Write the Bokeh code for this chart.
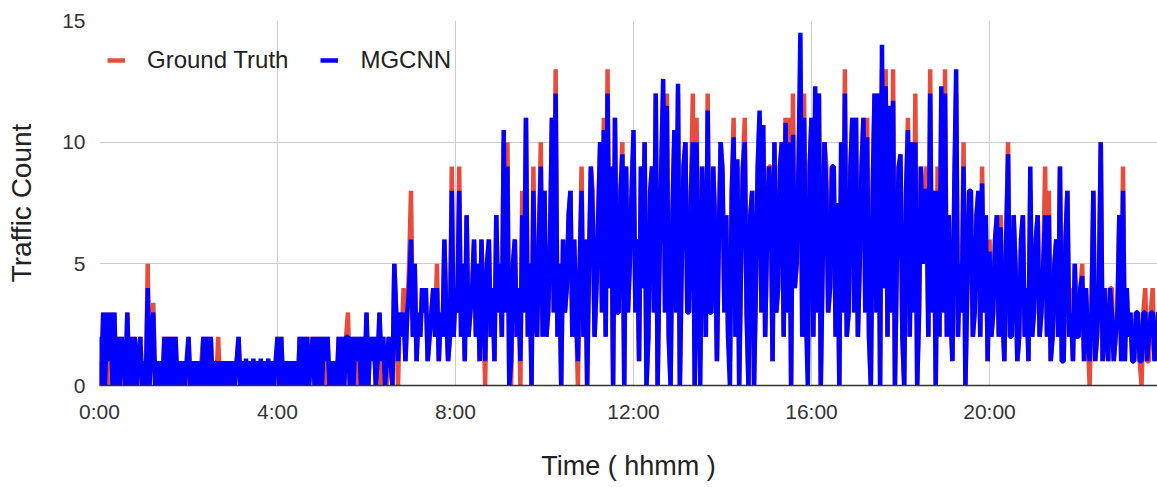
from bokeh.plotting import figure
from bokeh.models import Range1d, FixedTicker, Legend, LegendItem
from bokeh.embed import file_html
from bokeh.resources import INLINE

# one row per hour, 2.5-minute samples
ground_truth = [
    1, 0, 3, 0, 3, 0, 3, 0, 3, 0, 2, 1, 2, 0, 0, 3, 0, 2, 0, 2, 1, 0, 2, 0,
    0, 0, 5, 0, 2, 3.4, 0, 1, 0, 1, 0, 2, 0, 2, 0, 2, 0, 2, 0, 1, 0, 1, 0, 0,
    2, 0, 1, 0, 1, 0, 0, 1, 2, 0, 2, 0, 2, 0, 1, 0, 2, 0, 1, 0, 1, 0, 1, 0,
    1, 0, 1, 2, 0, 1, 0, 1, 0, 1, 0, 1, 0, 1, 0, 1, 0, 1, 0, 1, 0, 0, 1, 0,
    2, 0, 2, 0, 1, 0, 1, 0, 1, 0, 1, 0, 2, 0, 2, 0, 2, 0, 1, 2, 0, 2, 0, 2,
    0, 2, 0, 2, 0, 1, 0, 1, 0, 2, 0, 2, 0, 2, 3, 0, 2, 0, 2, 0, 2, 0, 2, 0,
    3, 0, 2, 1, 2, 0, 0, 3, 0, 2, 0, 0, 2, 1, 0, 5, 3, 0, 3, 2, 4, 1, 3, 5,
    8, 2, 5, 1, 3, 2, 4, 3, 4, 1, 2, 3, 4, 2, 5, 1, 3, 2, 6, 3, 1, 2, 9, 2,
    4, 3, 9, 2, 5, 1, 7, 2, 3, 4, 6, 2, 5, 1, 6, 3, 0, 5, 6, 2, 4, 1, 7, 3,
    5, 2, 10, 3, 10, 0, 0, 5, 6, 2, 4, 0, 8, 3, 11, 2, 5, 0, 9, 3, 2, 6, 10, 2,
    8, 2, 3, 6, 11, 3, 13, 2, 5, 0, 6, 3, 4, 7, 8, 2, 6, 3, 0, 5, 9, 2, 6, 0,
    5, 9, 8, 2, 4, 7, 10, 3, 11, 2, 13, 4, 9, 0, 11, 3, 3, 8, 10, 0, 9, 3, 5, 8,
    10, 3, 6, 1, 9, 4, 10, 0, 2, 8, 9, 3, 12, 0, 5, 9, 12, 3, 12, 2, 0, 7, 10, 3,
    12, 0, 5, 9, 10, 3, 4, 8, 12, 0, 11, 4, 1, 9, 6, 2, 12, 3, 3, 9, 7, 1, 6, 10,
    9, 3, 7, 2, 1, 8, 11, 2, 9, 0, 5, 9, 11, 3, 0, 7, 8, 0, 4, 9, 11, 3, 10, 2,
    6, 9, 9, 1, 10, 3, 4, 9, 10, 2, 11, 3, 11, 0, 12, 4, 5, 9, 12, 2, 12, 3, 1, 9,
    11, 2, 12, 3, 12, 0, 5, 10, 9, 3, 4, 9, 9, 2, 7, 0, 10, 3, 13, 2, 3, 9, 11, 3,
    11, 2, 5, 9, 11, 3, 11, 2, 0, 8, 12, 3, 12, 0, 13, 4, 13, 2, 11, 3, 13, 0, 5, 9,
    9, 2, 0, 8, 11, 2, 10, 3, 12, 0, 3, 9, 5, 8, 9, 2, 13, 3, 8, 0, 9, 2, 12, 3,
    13, 2, 7, 3, 1, 8, 12, 2, 5, 3, 10, 0, 4, 8, 7, 2, 3, 7, 8, 2, 9, 3, 7, 1,
    6, 2, 3, 6, 7, 2, 7, 3, 1, 6, 10, 2, 3, 7, 5, 1, 2, 6, 7, 2, 4, 1, 8, 2,
    3, 6, 7, 2, 3, 5, 9, 2, 8, 1, 2, 5, 6, 2, 9, 1, 1, 6, 8, 2, 4, 1, 5, 2,
    2, 4, 5, 1, 4, 2, 0, 3, 8, 1, 2, 4, 10, 1, 4, 2, 1, 4, 4, 1, 2, 3, 7, 1,
    9, 1, 4, 2, 3, 1, 1, 3, 3, 1, 0, 3, 4, 1, 1, 3, 4, 1, 2, 3, 3, 1, 4, 2,
]

mgcnn = [
    2, 0, 3, 0, 3, 1, 3, 0, 3, 0, 2, 0, 2, 1, 0, 3, 0, 2, 0, 2, 0, 1, 2, 0,
    1, 0, 4, 0, 2, 3, 0, 1, 0, 1, 0, 2, 0, 2, 0, 2, 0, 2, 0, 1, 0, 1, 0, 1,
    2, 0, 1, 0, 1, 0, 1, 0, 2, 0, 2, 0, 2, 0, 1, 0, 1, 0, 1, 0, 1, 0, 1, 0,
    1, 0, 1, 2, 0, 1, 0, 1.1, 0, 1, 0, 1.1, 0, 1, 0, 1.1, 0, 1, 0, 1.1, 0, 1, 0, 1,
    2, 0, 2, 0, 1, 0, 1, 0, 1, 0, 1, 0, 2, 0, 2, 0, 2, 0, 1, 2, 0, 2, 0, 2,
    0, 2, 1, 2, 0, 1, 0, 1, 0, 2, 0, 2, 0, 2, 2, 0, 2, 0, 2, 1, 2, 0, 2, 0,
    3, 0, 2, 1, 2, 0, 1, 3, 1, 2, 0, 1, 2, 1, 0, 5, 3, 1, 3, 2, 3, 1, 3, 4,
    6, 2, 5, 1, 3, 2, 4, 3, 4, 1, 2, 3, 4, 2, 4, 1, 3, 2, 6, 3, 1, 2, 8, 2,
    4, 3, 8, 2, 5, 1, 7, 2, 3, 4, 6, 2, 5, 1, 6, 3, 1, 5, 6, 2, 4, 1, 7, 3,
    5, 2, 10.5, 3, 9, 0, 1, 5, 6, 2, 4, 1, 7, 3, 11, 2, 5, 0, 8, 3, 2, 6, 9, 2,
    8, 2, 3, 6, 11, 3, 12, 2, 5, 0, 6, 3, 4, 7, 8, 2, 6, 3, 1, 5, 8, 2, 6, 0,
    5, 9, 7, 2, 4, 7, 10, 3, 10.5, 2, 12, 4, 9, 0, 11, 3, 3, 8, 9.5, 0, 9, 3, 5, 8,
    10.5, 3, 6, 1, 9, 4, 10, 0, 2, 8, 9, 3, 12, 0, 5, 9, 12.6, 3, 11.5, 2, 0, 7, 10.5, 3,
    12.4, 0, 5, 9, 10, 3, 3, 8, 10, 0, 10, 4, 0, 9, 6, 2, 11.3, 3, 3, 9, 6.3, 1, 6, 10,
    8.7, 3, 7, 2, 0, 8, 10.2, 2, 9.3, 0, 5, 9, 10, 3, 0, 7, 8, 0, 4, 9, 11.3, 3, 10.7, 2,
    6, 9, 8, 1, 10, 3, 4, 9, 10, 2, 10.8, 3, 10, 0, 10.3, 4, 5, 9, 14.5, 2, 11, 3, 0, 9,
    11, 2, 12.3, 3, 12, 0, 5, 10, 8, 3, 4, 9, 9, 2, 7.5, 0, 10, 3, 12, 2, 3, 9, 11, 3,
    11, 2, 5, 9, 11, 3, 10.2, 2, 0, 8, 12, 3, 12, 0, 14, 4, 12.3, 2, 11.5, 3, 11.7, 0, 5, 9,
    9.5, 2, 0, 8, 10.5, 2, 10, 3, 10, 0, 3, 9, 5, 8, 8, 2, 12, 3, 8, 0, 8, 2, 12.3, 3,
    12, 2, 7, 3, 1, 8, 13, 2, 5, 3, 9, 0, 4, 8, 8, 2, 3, 7, 8, 2, 8.3, 3, 7, 1,
    5.5, 2, 3, 6, 7, 2, 6.5, 3, 1, 6, 9.5, 2, 2, 7, 5, 1, 2, 6, 7, 2, 4, 1, 9, 2,
    3, 6, 7, 2, 3, 5, 7, 2, 7, 1, 2, 5, 6, 2, 9, 1, 1, 6, 8, 2, 3, 1, 5, 2,
    2, 4, 4.5, 1, 4, 2, 1, 3, 8, 1, 2, 4, 10, 1, 4, 2, 1, 4, 3, 1, 2, 3, 7, 1,
    8, 1, 4, 2, 3, 1, 1, 3, 3, 1, 1, 3, 3, 1, 2, 3, 3, 1, 2, 3, 3, 1, 4, 2,
]

# time of day in minutes for each sample
time_gt = [i * 2.5 for i in range(len(ground_truth))]
time_mg = [i * 2.5 for i in range(len(mgcnn))]

x_ticks = [0, 240, 480, 720, 960, 1200]
x_tick_labels = ["0:00", "4:00", "8:00", "12:00", "16:00", "20:00"]
y_ticks = [0, 5, 10, 15]

RED = "#e84c3d"
BLUE = "#0000ff"
FONT = "Liberation Sans"

p = figure(width=1157, height=487, output_backend="svg", toolbar_location=None,
           x_range=Range1d(0, 1426.5), y_range=Range1d(0, 15),
           min_border_left=99, min_border_right=0, min_border_top=20,
           min_border_bottom=102)
p.outline_line_color = None
p.background_fill_color = "white"
p.border_fill_color = "white"

r_gt = p.line(time_gt, ground_truth, line_color=RED, line_width=4.5, line_join="bevel")
r_mg = p.line(time_mg, mgcnn, line_color=BLUE, line_width=4.5, line_join="bevel")

# x axis
xa = p.xaxis[0]
xa.ticker = FixedTicker(ticks=x_ticks)
xa.major_label_overrides = {t: l for t, l in zip(x_ticks, x_tick_labels)}
xa.major_tick_line_color = None
xa.minor_tick_line_color = None
xa.major_tick_out = 0
xa.major_tick_in = 0
xa.axis_line_color = "#333333"
xa.axis_line_width = 1.5
xa.major_label_standoff = 14
xa.major_label_text_font = FONT
xa.major_label_text_font_size = "21px"
xa.major_label_text_color = "#333333"
xa.axis_label = "Time ( hhmm )"
xa.axis_label_text_font = FONT
xa.axis_label_text_font_size = "27px"
xa.axis_label_text_font_style = "normal"
xa.axis_label_text_color = "#222222"
xa.axis_label_standoff = 25

# y axis
ya = p.yaxis[0]
ya.ticker = FixedTicker(ticks=y_ticks)
ya.major_tick_line_color = None
ya.minor_tick_line_color = None
ya.major_tick_out = 0
ya.major_tick_in = 0
ya.axis_line_color = None
ya.major_label_standoff = 14
ya.major_label_text_font = FONT
ya.major_label_text_font_size = "21px"
ya.major_label_text_color = "#333333"
ya.axis_label = "Traffic Count"
ya.axis_label_text_font = FONT
ya.axis_label_text_font_size = "28px"
ya.axis_label_text_font_style = "normal"
ya.axis_label_text_color = "#222222"
ya.axis_label_standoff = 22

p.xgrid.ticker = FixedTicker(ticks=x_ticks)
p.ygrid.ticker = FixedTicker(ticks=y_ticks)
p.xgrid.grid_line_color = "#cccccc"
p.ygrid.grid_line_color = "#cccccc"

legend = Legend(
    items=[LegendItem(label="Ground Truth", renderers=[r_gt]),
           LegendItem(label="MGCNN", renderers=[r_mg])],
    orientation="horizontal", location=(8, 311),
    background_fill_alpha=0, border_line_color=None,
    label_text_font=FONT, label_text_font_size="24px", label_text_color="#222222",
    glyph_width=18, glyph_height=20, label_standoff=22, spacing=32,
    padding=0, margin=0,
)
p.add_layout(legend)

open("out.html", "w").write(file_html(p, INLINE))
